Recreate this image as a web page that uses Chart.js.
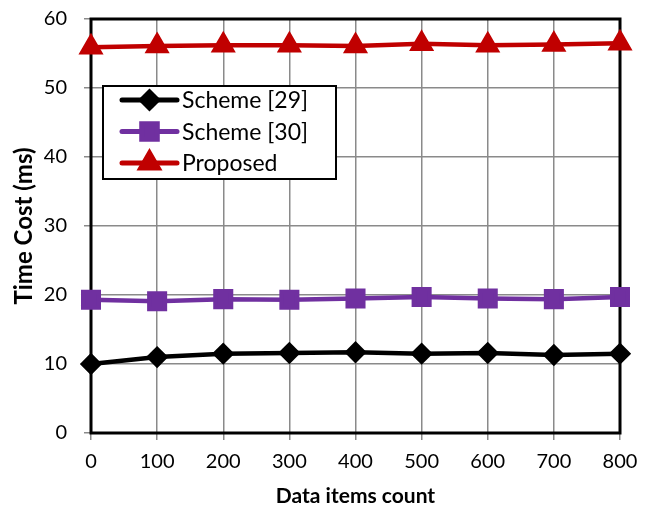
<!DOCTYPE html>
<html>
<head>
<meta charset="utf-8">
<script src="https://cdn.jsdelivr.net/npm/chart.js@4.4.1/dist/chart.umd.min.js"></script>
<style>
  html, body { margin: 0; padding: 0; background: #fff; }
  #wrap { width: 655px; height: 513px; }
</style>
</head>
<body>
<div id="wrap"><canvas id="chart" width="655" height="513"></canvas></div>
<script>
const itemCounts = ['0', '100', '200', '300', '400', '500', '600', '700', '800'];
const scheme29 = [10.0, 11.0, 11.5, 11.6, 11.7, 11.5, 11.6, 11.3, 11.5];
const scheme30 = [19.3, 19.1, 19.4, 19.3, 19.5, 19.7, 19.5, 19.4, 19.7];
const proposed = [55.9, 56.1, 56.2, 56.2, 56.1, 56.4, 56.2, 56.3, 56.5];
const yTicks = [0, 10, 20, 30, 40, 50, 60];

const FONT = 'Lato, "Open Sans", sans-serif';

// black frame around plot area
const frame = {
  id: 'frame',
  beforeDatasetsDraw(chart) {
    const { ctx, chartArea: a } = chart;
    ctx.save();
    ctx.strokeStyle = '#000';
    ctx.lineWidth = 3;
    ctx.strokeRect(a.left, a.top, a.right - a.left, a.bottom - a.top);
    ctx.restore();
  }
};

// boxed legend inside the plot
const boxLegend = {
  id: 'boxLegend',
  afterDraw(chart) {
    const { ctx } = chart;
    const x0 = 103, y0 = 86, w = 233, h = 93;
    ctx.save();
    ctx.fillStyle = '#fff';
    ctx.fillRect(x0, y0, w, h);
    ctx.strokeStyle = '#000';
    ctx.lineWidth = 2;
    ctx.strokeRect(x0, y0, w, h);
    ctx.font = '23px ' + FONT;
    ctx.textBaseline = 'middle';
    chart.data.datasets.forEach((ds, i) => {
      const cy = 100 + i * 31.5;
      ctx.strokeStyle = ds.borderColor;
      ctx.lineWidth = 5;
      ctx.lineCap = 'round';
      ctx.beginPath();
      ctx.moveTo(122, cy);
      ctx.lineTo(177, cy);
      ctx.stroke();
      ctx.fillStyle = ds.pointBackgroundColor;
      ctx.strokeStyle = ds.pointBackgroundColor;
      Chart.helpers.drawPoint(ctx, {
        pointStyle: ds.pointStyle, radius: ds.pointRadius, rotation: 0,
        borderWidth: 1
      }, 149.5, cy);
      ctx.fillStyle = '#000';
      ctx.fillText(ds.label, 182, cy + 1);
    });
    ctx.restore();
  }
};

new Chart(document.getElementById('chart').getContext('2d'), {
  type: 'line',
  data: {
    labels: itemCounts,
    datasets: [
      { label: 'Scheme [29]', data: scheme29, borderColor: '#000000', pointBackgroundColor: '#000000',
        pointBorderColor: '#000000', pointStyle: 'rectRot', pointRadius: 8, borderWidth: 4.5 },
      { label: 'Scheme [30]', data: scheme30, borderColor: '#7030a0', pointBackgroundColor: '#7030a0',
        pointBorderColor: '#7030a0', pointStyle: 'rect', pointRadius: 11, borderWidth: 4.5 },
      { label: 'Proposed', data: proposed, borderColor: '#c00000', pointBackgroundColor: '#c00000',
        pointBorderColor: '#c00000', pointStyle: 'triangle', pointRadius: 10, borderWidth: 4.5 }
    ]
  },
  options: {
    responsive: false,
    animation: false,
    layout: { padding: { top: 19, right: 35, left: 0, bottom: 0 } },
    plugins: { legend: { display: false }, tooltip: { enabled: false } },
    elements: { line: { tension: 0 }, point: { borderWidth: 1 } },
    scales: {
      x: {
        grid: { color: '#8a8a8a', lineWidth: 1.5, tickLength: 7 },
        border: { display: false },
        ticks: { color: '#000', font: { family: FONT, size: 20 }, padding: 10, maxRotation: 0 },
        title: { display: true, text: 'Data items count', color: '#000',
                 font: { family: FONT, size: 21, weight: 'bold' }, padding: { top: 1 } },
        afterFit(scale) { scale.height = 80; }
      },
      y: {
        min: 0, max: 60,
        afterBuildTicks(scale) { scale.ticks = yTicks.map(v => ({ value: v })); },
        grid: { color: '#8a8a8a', lineWidth: 1.5, tickLength: 7 },
        border: { display: false },
        ticks: { color: '#000', font: { family: FONT, size: 20 }, padding: 17 },
        title: { display: true, text: 'Time Cost (ms)', color: '#000',
                 font: { family: FONT, size: 24, weight: 'bold' }, padding: { top: 10 } },
        afterFit(scale) { scale.width = 91; scale.paddingTop = 0; scale.paddingBottom = 0; }
      }
    }
  },
  plugins: [frame, boxLegend]
});
</script>
</body>
</html>
